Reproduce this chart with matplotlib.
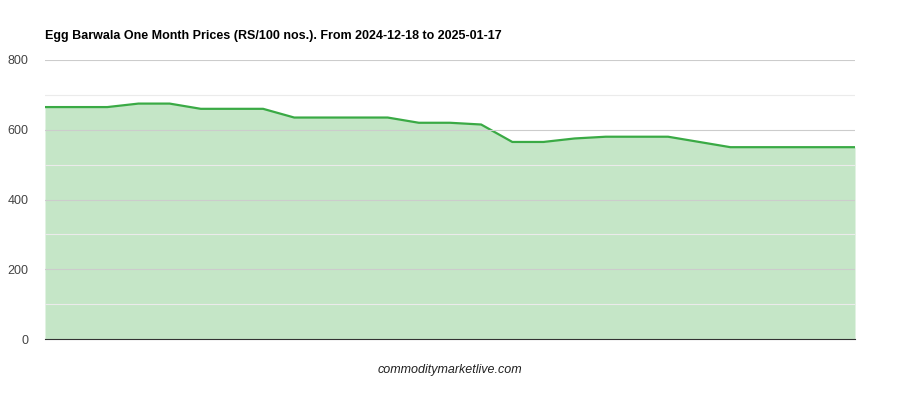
import matplotlib
matplotlib.use("Agg")
import matplotlib.pyplot as plt

prices = [665, 665, 665, 675, 675, 660, 660, 660, 635, 635, 635, 635, 620, 620, 615,
          565, 565, 575, 580, 580, 580, 565, 550, 550, 550, 550, 550]
yticks = [0, 200, 400, 600, 800]
title = "Egg Barwala One Month Prices (RS/100 nos.). From 2024-12-18 to 2025-01-17"
footer = "commoditymarketlive.com"

plt.rcParams['font.family'] = ['Arial', 'Liberation Sans', 'DejaVu Sans']
fig = plt.figure(figsize=(9, 4), dpi=100)
ax = fig.add_axes([0.05, 0.1525, 0.9, 0.6975])
x = list(range(len(prices)))
ax.fill_between(x, prices, 0, color='#c5e6c7', lw=0)
ax.plot(x, prices, color='#3aaa45', lw=1.6)
ax.set_xlim(0, len(prices) - 1)
ax.set_ylim(0, 800)
ax.set_yticks(yticks)
ax.set_yticks([100, 300, 500, 700], minor=True)
ax.grid(axis='y', which='major', color='#cccccc', lw=0.8)
ax.grid(axis='y', which='minor', color='#ebebeb', lw=0.8)
ax.set_axisbelow(False)
ax.set_xticks([])
for s in ['top', 'right', 'left']:
    ax.spines[s].set_visible(False)
ax.spines['bottom'].set_color('#333333')
ax.tick_params(axis='y', which='both', length=0, labelsize=9, colors='#444444', pad=12)
fig.text(0.05, 0.91, title, fontsize=9, fontweight='bold', ha='left', va='center')
fig.text(0.5, 0.075, footer, fontsize=9, style='italic', ha='center', va='center', color='#222222')
fig.savefig('out.png')
